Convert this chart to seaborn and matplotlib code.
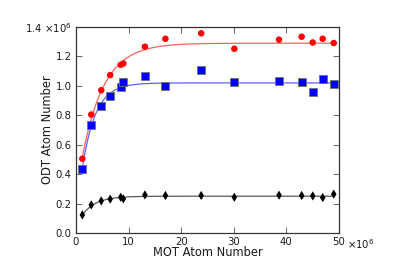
import numpy as np
import pandas as pd
import seaborn as sns
import matplotlib
matplotlib.use("Agg")
import matplotlib.pyplot as plt

# MOT atom number (x 1e6)
mot = [1.2, 2.9, 4.8, 6.5, 8.5, 9.0, 13.1, 17.0, 23.8, 30.1, 38.6, 42.9, 45.0, 46.9, 49.0]

# ODT atom number (x 1e6)
odt_red = [0.505, 0.805, 0.970, 1.073, 1.143, 1.152, 1.266, 1.320, 1.357, 1.252,
           1.314, 1.334, 1.295, 1.320, 1.291]
odt_blue = [0.434, 0.734, 0.866, 0.930, 0.995, 1.023, 1.064, 0.998, 1.107, 1.023,
            1.034, 1.027, 0.955, 1.050, 1.011]
odt_black = [0.123, 0.191, 0.218, 0.230, 0.243, 0.232, 0.259, 0.255, 0.255, 0.243,
             0.257, 0.255, 0.252, 0.241, 0.264]
err_black = [0.015, 0.015, 0.015, 0.015, 0.015, 0.015, 0.015, 0.015, 0.015, 0.015,
             0.015, 0.015, 0.015, 0.015, 0.015]

# saturation fit parameters: amplitude, x offset, scale
fit_red = (1.29, -0.89, 4.13)
fit_blue = (1.02, -0.2, 2.5)
fit_black = (0.25, -0.54, 2.6)

sns.set_style("ticks")
plt.rcParams['font.family'] = ['DejaVu Sans']

fig = plt.figure(figsize=(4.07, 2.79), dpi=100)
ax = fig.add_axes([76 / 407, 46 / 279, 263 / 407, 206 / 279])

xf = np.linspace(min(mot), max(mot), 300)
for (a, c, t), col, lc in [(fit_red, 'red', '#ff6060'), (fit_blue, 'blue', '#6060ff'),
                           (fit_black, 'black', '0.35')]:
    fit_df = pd.DataFrame({'x': xf, 'y': a * (1 - np.exp(-(xf - c) / t))})
    sns.lineplot(data=fit_df, x='x', y='y', color=lc, linewidth=0.9, ax=ax)

df = pd.DataFrame({'mot': mot, 'red': odt_red, 'blue': odt_blue, 'black': odt_black})
sns.scatterplot(data=df, x='mot', y='red', color='red', marker='o', s=22,
                edgecolor='none', ax=ax, zorder=3)
sns.scatterplot(data=df, x='mot', y='blue', color='blue', marker='s', s=30,
                edgecolor='0.45', linewidth=0.6, ax=ax, zorder=3)
ax.errorbar(mot, odt_black, yerr=err_black, fmt='none', ecolor='black', elinewidth=1.0, zorder=3)
sns.scatterplot(data=df, x='mot', y='black', color='black', marker='d', s=22,
                edgecolor='none', ax=ax, zorder=4)

ax.set_xlim(0, 50)
ax.set_ylim(0, 1.4)
xt = [0, 10, 20, 30, 40, 50]
yt = [0.0, 0.2, 0.4, 0.6, 0.8, 1.0, 1.2, 1.4]
ax.set_xticks(xt)
ax.set_xticklabels([str(v) for v in xt])
ax.set_yticks(yt)
ylabels = [f'{v:.1f}' for v in yt]
ylabels[-1] = '1.4 $\\times10^{6}$'
ax.set_yticklabels(ylabels)
ax.text(1.032, -0.02, '$\\times10^{6}$', transform=ax.transAxes, fontsize=7.3,
        ha='left', va='top', color='0.1')

ax.tick_params(direction='in', top=True, right=True, length=4, width=0.6,
               labelsize=7.3, pad=3, colors='0.3', labelcolor='0.1')
for sp in ax.spines.values():
    sp.set_visible(True)
    sp.set_color('0.2')
    sp.set_linewidth(0.9)

ax.set_xlabel('MOT Atom Number', fontsize=8.3, color='0.1')
ax.set_ylabel('ODT Atom Number', fontsize=8.3, color='0.1')
ax.xaxis.set_label_coords(0.5, -0.062)
ax.yaxis.set_label_coords(-0.082, 0.5)

fig.savefig('out.png', dpi=100)
